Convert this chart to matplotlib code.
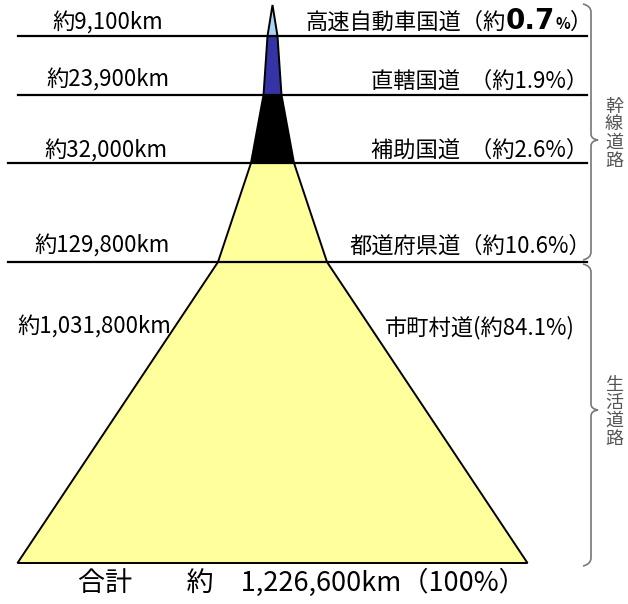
import matplotlib
matplotlib.use("Agg")
import matplotlib.pyplot as plt
from matplotlib.patches import Polygon, PathPatch
from matplotlib.path import Path

plt.rcParams['font.family'] = ['Noto Sans CJK JP', 'DejaVu Sans']

# ---- data ----
categories = ["高速自動車国道", "直轄国道", "補助国道", "都道府県道", "市町村道"]
lengths_km = ["9,100", "23,900", "32,000", "129,800", "1,031,800"]
shares = ["0.7", "1.9", "2.6", "10.6", "84.1"]
total_km = "1,226,600"
groups = ["幹線道路", "生活道路"]
tier_colors = ["#a9d3f2", "#3434a6", "#000000", "#ffff9c", "#ffff9c"]

# ---- layout (pixel-like coordinates) ----
W, H = 628, 604
fig = plt.figure(figsize=(W / 100, H / 100), dpi=100)
ax = fig.add_axes([0, 0, 1, 1])
ax.set_xlim(0, W)
ax.set_ylim(H, 0)
ax.axis('off')

cx = 272.5
# boundaries of tiers: (y, half width)
bounds = [(5, 0), (36, 5), (95, 9), (163, 21.5), (262, 54.5), (563, 255)]

for i in range(5):
    (y0, h0), (y1, h1) = bounds[i], bounds[i + 1]
    poly = Polygon([(cx - h0, y0), (cx + h0, y0), (cx + h1, y1), (cx - h1, y1)],
                   closed=True, facecolor=tier_colors[i], edgecolor='none', zorder=2)
    ax.add_patch(poly)
# outline
left = [(cx - h, y) for y, h in bounds]
right = [(cx + h, y) for y, h in bounds][::-1]
ax.add_patch(Polygon(left + right, closed=True, facecolor='none', edgecolor='black',
                     lw=1.4, zorder=3))

# horizontal lines
line_specs = [(36, 18, 587), (95, 18, 587), (163, 8, 587), (262, 8, 587)]
for y, x0, x1 in line_specs:
    ax.plot([x0, x1], [y, y], color='black', lw=1.6, zorder=4)

fs = 16
# left length labels
left_pos = [(52, 23), (46, 80), (44, 151), (34, 246), (17, 327)]
for (x, y), v in zip(left_pos, lengths_km):
    ax.text(x, y, f"約{v}km", fontsize=fs, ha='left', va='center', zorder=5)

# right category labels
fig.canvas.draw()
renderer = fig.canvas.get_renderer()
inv = ax.transData.inverted()


def place_right(pieces, xr, y):
    """pieces: list of (text, kwargs) drawn right-to-left ending at xr."""
    x = xr
    for txt, kw in reversed(pieces):
        t = ax.text(x, y, txt, ha='right', va='baseline', zorder=5, **kw)
        bb = t.get_window_extent(renderer)
        x = inv.transform((bb.x0, bb.y0))[0]


rfs = 16
place_right([(f"{categories[0]}（約", dict(fontsize=rfs)),
             (shares[0], dict(fontsize=20, fontweight='bold', family='DejaVu Sans')),
             ("%", dict(fontsize=11, fontweight='bold')),
             ("）", dict(fontsize=rfs))], 592, 29)
place_right([(f"{categories[1]}  （約{shares[1]}%）", dict(fontsize=rfs))], 588, 88)
place_right([(f"{categories[2]}  （約{shares[2]}%）", dict(fontsize=rfs))], 588, 157)
place_right([(f"{categories[3]}（約{shares[3]}%）", dict(fontsize=rfs))], 591, 253)
place_right([(f"{categories[4]}(約{shares[4]}%)", dict(fontsize=rfs))], 575, 334)

# total
ax.text(302, 583, f"合計　　約　{total_km}km（100%）", fontsize=19.5, ha='center',
        va='center', zorder=5)


# braces
def brace(y0, y1, ytip, x=591, color='#777777'):
    verts = [(583, y0), (x, y0 + 2), (x, y0 + 8),
             (x, ytip - 6), (x, ytip - 1), (x + 7, ytip),
             (x, ytip + 1), (x, ytip + 6),
             (x, y1 - 8), (x, y1 - 2), (583, y1)]
    codes = [Path.MOVETO, Path.CURVE3, Path.CURVE3,
             Path.LINETO, Path.CURVE3, Path.CURVE3,
             Path.CURVE3, Path.CURVE3,
             Path.LINETO, Path.CURVE3, Path.CURVE3]
    ax.add_patch(PathPatch(Path(verts, codes), facecolor='none', edgecolor=color,
                           lw=1.2, zorder=5))


brace(4, 260, 140)
brace(264, 566, 410)

for g, yc in zip(groups, [134, 412]):
    n = len(g)
    for k, ch in enumerate(g):
        ax.text(614, yc + (k - (n - 1) / 2) * 18, ch, fontsize=13, ha='center',
                va='center', color='#555555', zorder=5)

fig.savefig("out.png", dpi=100)
